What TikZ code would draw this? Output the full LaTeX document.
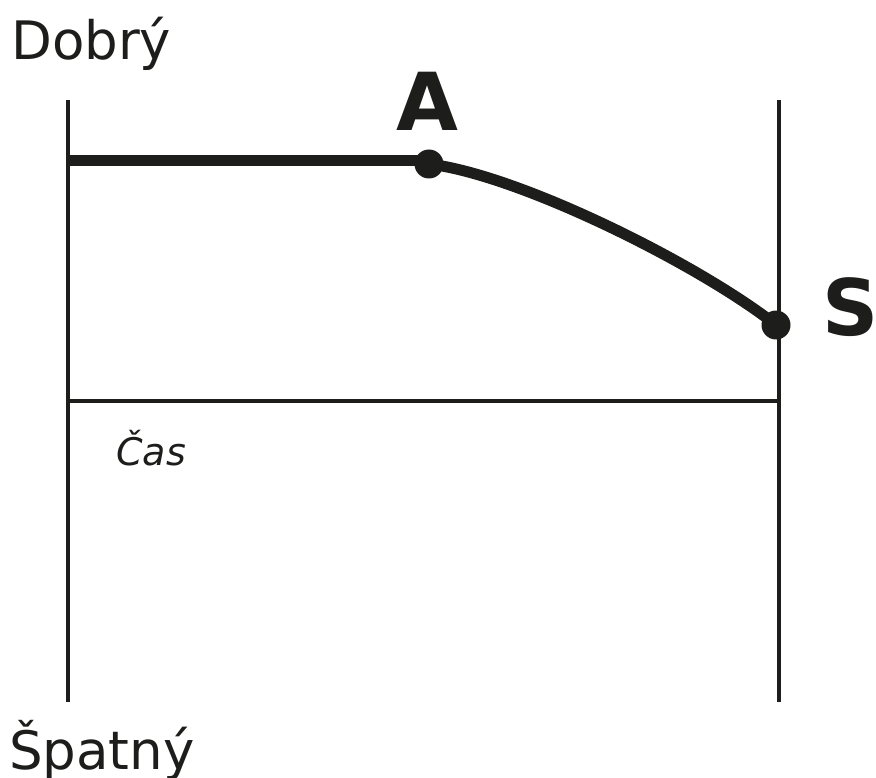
\documentclass[tikz,border=0pt]{standalone}
\usepackage{fontspec}
\setmainfont{DejaVu Sans}
\definecolor{ink}{HTML}{1D1D1B}
\begin{document}
\begin{tikzpicture}[x=1pt,y=-1pt,
  thinline/.style={draw=ink,line width=4pt},
  thickline/.style={draw=ink,line width=11pt},
  dotmark/.style={circle,fill=ink,inner sep=0pt,minimum size=29pt},
  axislabel/.style={text=ink,inner sep=0pt,font=\fontsize{53}{60}\selectfont},
  pointlabel/.style={text=ink,inner sep=0pt,font=\fontsize{80}{90}\selectfont\bfseries}]
\useasboundingbox (0,0) rectangle (876,778);
% axes
\coordinate (lt) at (68,100);
\coordinate (lb) at (68,702);
\coordinate (rt) at (779,100);
\coordinate (rb) at (779,702);
\coordinate (hl) at (68,401);
\coordinate (hr) at (779,401);
\coordinate (start) at (66,161);
\draw[thinline] (lt) -- (lb);
\draw[thinline] (rt) -- (rb);
\draw[thinline] (hl) -- (hr);
% points
\node[dotmark] (A) at (429,164) {};
\node[dotmark] (S) at (776,325) {};
\draw[thickline] (start) -- (start -| A.center);
\draw[thickline] (A.center) .. controls (520,175) and (700,265) .. (S.center);
% labels
\node[axislabel,anchor=base west] (dobry) at (11,60) {Dobrý};
\node[axislabel,anchor=base west] (spatny) at (9,769) {Špatný};
\node[text=ink,inner sep=0pt,anchor=base west,font=\fontsize{38}{44}\selectfont\itshape] (cas) at (116,465) {Čas};
\node[pointlabel,anchor=base] (la) at (427,131) {A};
\node[pointlabel,anchor=base west,font=\fontsize{78}{88}\selectfont\bfseries] (ls) at (822,335) {S};
\end{tikzpicture}
\end{document}
